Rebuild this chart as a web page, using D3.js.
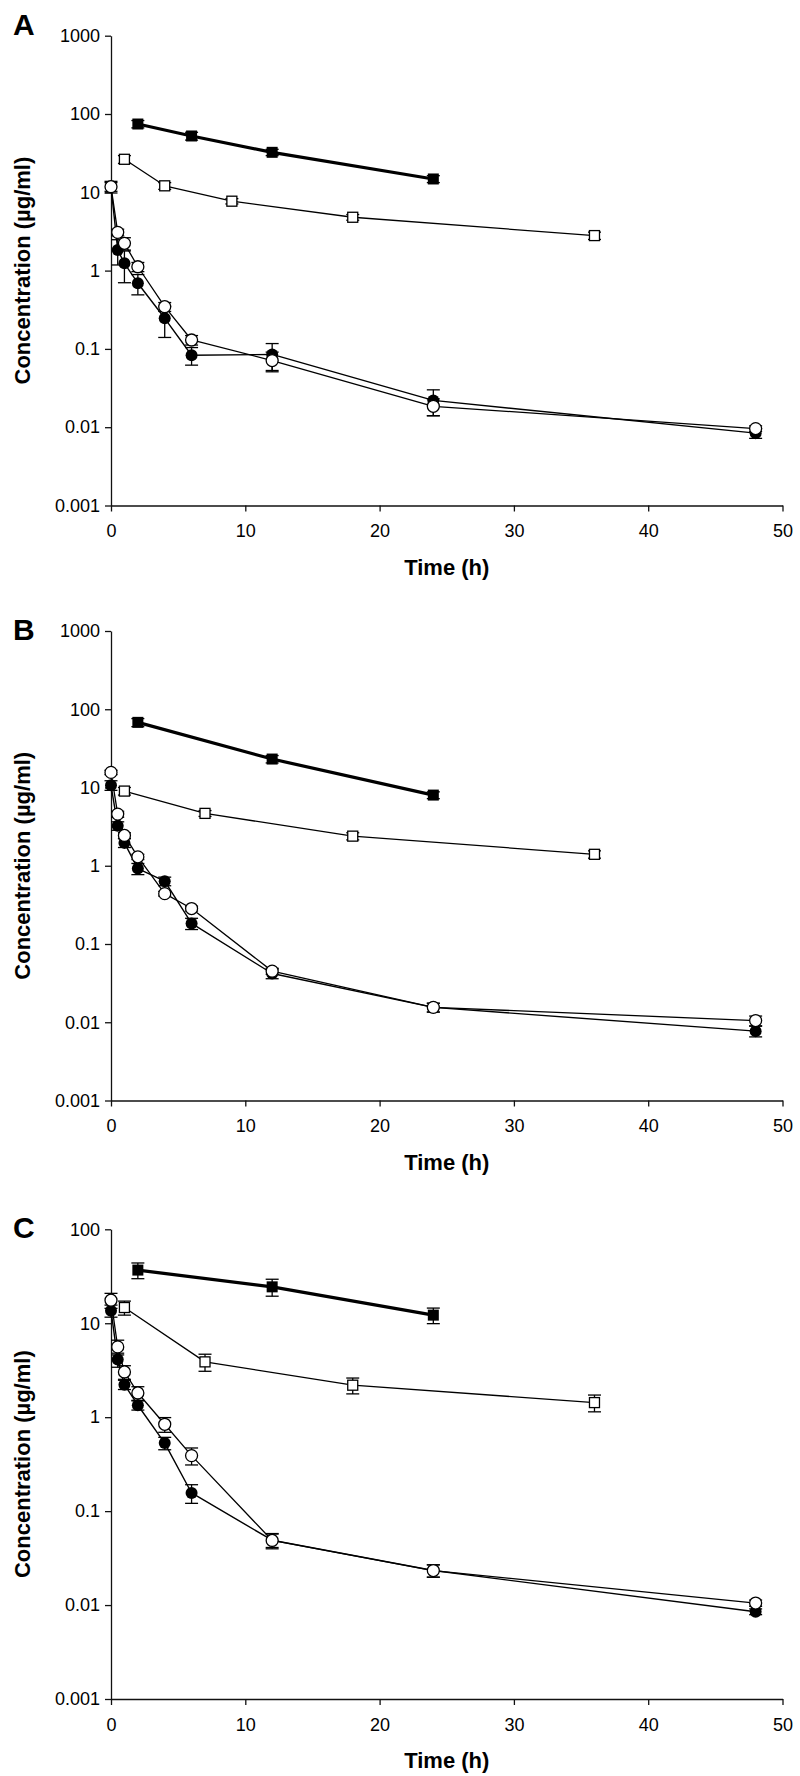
<!DOCTYPE html>
<html>
<head>
<meta charset="utf-8">
<script src="https://cdn.jsdelivr.net/npm/d3@7"></script>
<style>
  html, body { margin: 0; padding: 0; background: #fff; }
  svg { display: block; }
  text { font-family: "Liberation Sans", Arial, sans-serif; fill: #000; }
</style>
</head>
<body>
<svg id="chart" width="800" height="1776"></svg>
<script>
// ---------- DATA ----------
const xTicks = [0, 10, 20, 30, 40, 50];
const yTicksAB = [0.001, 0.01, 0.1, 1, 10, 100, 1000];
const yTicksC = [0.001, 0.01, 0.1, 1, 10, 100];
const panelLabels = ["A", "B", "C"];
const xTitle = "Time (h)";
const yTitle = "Concentration (µg/ml)";

const circleTimes = [0, 0.5, 1, 2, 4, 6, 12, 24, 48];

// Panel A
const sqFilledTimesA = [2, 6, 12, 24];
const sqFilledA = [74.5, 52.4, 32.4, 14.8];
const sqFilledSdA = [8, 6, 3, 1.5];
const sqOpenTimesA = [1, 4, 9, 18, 36];
const sqOpenA = [26.4, 12.1, 7.7, 4.8, 2.8];
const sqOpenSdA = [3, 1.2, 0.6, 0.4, 0.3];
const circFilledA = [11.8, 1.83, 1.24, 0.69, 0.246, 0.083, 0.085, 0.022, 0.0084];
const circFilledSdA = [2, 0.65, 0.54, 0.2, 0.106, 0.021, 0.032, 0.008, 0.0012];
const circOpenA = [11.8, 3.08, 2.23, 1.12, 0.346, 0.13, 0.071, 0.0185, 0.0096];
const circOpenSdA = [1.5, 0.3, 0.4, 0.15, 0.045, 0.018, 0.02, 0.0045, 0.0008];

// Panel B
const sqFilledTimesB = [2, 12, 24];
const sqFilledB = [68, 23.1, 8.0];
const sqFilledSdB = [8, 2.5, 0.8];
const sqOpenTimesB = [1, 7, 18, 36];
const sqOpenB = [9.0, 4.67, 2.39, 1.4];
const sqOpenSdB = [1, 0.4, 0.25, 0.15];
const circFilledB = [10.7, 3.24, 1.96, 0.92, 0.635, 0.183, 0.042, 0.0155, 0.0077];
const circFilledSdB = [1.5, 0.4, 0.25, 0.15, 0.08, 0.03, 0.006, 0.002, 0.0012];
const circOpenB = [15.6, 4.57, 2.44, 1.3, 0.44, 0.284, 0.045, 0.0155, 0.0105];
const circOpenSdB = [1, 0.4, 0.2, 0.1, 0.03, 0.02, 0.004, 0.002, 0.0015];

// Panel C
const sqFilledTimesC = [2, 12, 24];
const sqFilledC = [36.8, 24.4, 12.2];
const sqFilledSdC = [7, 5, 2.3];
const sqOpenTimesC = [1, 7, 18, 36];
const sqOpenC = [14.7, 3.88, 2.19, 1.43];
const sqOpenSdC = [2.5, 0.8, 0.42, 0.29];
const circFilledC = [13.6, 4.1, 2.22, 1.34, 0.53, 0.156, 0.049, 0.0233, 0.0085];
const circFilledSdC = [2, 0.7, 0.25, 0.15, 0.08, 0.035, 0.008, 0.0035, 0.0006];
const circOpenC = [17.6, 5.6, 3.03, 1.81, 0.84, 0.39, 0.0487, 0.0233, 0.0105];
const circOpenSdC = [3.2, 1, 0.5, 0.3, 0.15, 0.08, 0.009, 0.0035, 0.0008];

// ---------- LAYOUT ----------
const svg = d3.select("#chart");
const X0 = 111, X1 = 782.5;

const panels = [
  { label: panelLabels[0], top: 35.7, bottom: 505.5, yTicks: yTicksAB, labelY: 35,
    sqF: [sqFilledTimesA, sqFilledA, sqFilledSdA], sqO: [sqOpenTimesA, sqOpenA, sqOpenSdA],
    cF: [circleTimes, circFilledA, circFilledSdA], cO: [circleTimes, circOpenA, circOpenSdA] },
  { label: panelLabels[1], top: 631, bottom: 1100.5, yTicks: yTicksAB, labelY: 640,
    sqF: [sqFilledTimesB, sqFilledB, sqFilledSdB], sqO: [sqOpenTimesB, sqOpenB, sqOpenSdB],
    cF: [circleTimes, circFilledB, circFilledSdB], cO: [circleTimes, circOpenB, circOpenSdB] },
  { label: panelLabels[2], top: 1229.3, bottom: 1699, yTicks: yTicksC, labelY: 1238,
    sqF: [sqFilledTimesC, sqFilledC, sqFilledSdC], sqO: [sqOpenTimesC, sqOpenC, sqOpenSdC],
    cF: [circleTimes, circFilledC, circFilledSdC], cO: [circleTimes, circOpenC, circOpenSdC] }
];

const fmt = d => String(d);

panels.forEach(p => {
  const yTicks = p.yTicks;
  const x = d3.scaleLinear().domain([0, 50]).range([X0, X1]);
  const y = d3.scaleLog().domain([yTicks[0], yTicks[yTicks.length - 1]]).range([p.bottom, p.top]);
  const g = svg.append("g");

  // axes
  const yAxis = g.append("g").attr("transform", `translate(${X0},0)`)
    .call(d3.axisLeft(y).tickValues(yTicks).tickFormat(fmt).tickSize(6).tickSizeOuter(0).tickPadding(5));
  const xAxis = g.append("g").attr("transform", `translate(0,${p.bottom})`)
    .call(d3.axisBottom(x).tickValues(xTicks).tickFormat(fmt).tickSize(6).tickSizeOuter(0).tickPadding(13));
  [yAxis, xAxis].forEach(a => {
    a.selectAll("path, line").attr("stroke", "#111").attr("stroke-width", 1.3);
    a.selectAll("text").attr("font-size", 18).attr("fill", "#111")
      .style("font-family", '"Liberation Sans", Arial, sans-serif');
  });

  // titles
  g.append("text").attr("x", 13).attr("y", p.labelY)
    .attr("font-size", 30).attr("font-weight", "bold").text(p.label);
  g.append("text")
    .attr("transform", `translate(30,${(p.top + p.bottom) / 2}) rotate(-90)`)
    .attr("text-anchor", "middle").attr("font-size", 22).attr("font-weight", "bold")
    .text(yTitle);
  g.append("text").attr("x", (X0 + X1) / 2).attr("y", p.bottom + 69)
    .attr("text-anchor", "middle").attr("font-size", 22).attr("font-weight", "bold")
    .text(xTitle);

  const toPts = s => s[0].map((t, i) => ({ t, v: s[1][i], sd: s[2][i] }));
  const line = d3.line().x(d => x(d.t)).y(d => y(d.v));

  const series = [
    { pts: toPts(p.sqF), lw: 3.2 },
    { pts: toPts(p.sqO), lw: 1.3 },
    { pts: toPts(p.cF), lw: 1.4 },
    { pts: toPts(p.cO), lw: 1.3 }
  ];

  // lines
  series.forEach(s => {
    g.append("path").datum(s.pts).attr("d", line)
      .attr("fill", "none").attr("stroke", "#000").attr("stroke-width", s.lw)
      .attr("stroke-linejoin", "round");
  });

  // error bars
  const yMin = yTicks[0];
  series.forEach(s => {
    const eb = g.append("g").attr("stroke", "#000").attr("stroke-width", 1.3);
    s.pts.forEach(d => {
      const lo = Math.max(d.v - d.sd, yMin * 1.01);
      const hi = d.v + d.sd;
      const cx = x(d.t);
      eb.append("line").attr("x1", cx).attr("x2", cx).attr("y1", y(lo)).attr("y2", y(hi));
      eb.append("line").attr("x1", cx - 6.5).attr("x2", cx + 6.5).attr("y1", y(lo)).attr("y2", y(lo));
      eb.append("line").attr("x1", cx - 6.5).attr("x2", cx + 6.5).attr("y1", y(hi)).attr("y2", y(hi));
    });
  });

  // markers
  const sqF = series[0].pts, sqO = series[1].pts, cF = series[2].pts, cO = series[3].pts;
  g.selectAll(".sqF").data(sqF).enter().append("rect")
    .attr("x", d => x(d.t) - 5.5).attr("y", d => y(d.v) - 5.5)
    .attr("width", 11).attr("height", 11).attr("fill", "#000");
  g.selectAll(".sqO").data(sqO).enter().append("rect")
    .attr("x", d => x(d.t) - 5).attr("y", d => y(d.v) - 5)
    .attr("width", 10).attr("height", 10).attr("fill", "#fff")
    .attr("stroke", "#000").attr("stroke-width", 1.3);
  g.selectAll(".cF").data(cF).enter().append("circle")
    .attr("cx", d => x(d.t)).attr("cy", d => y(d.v)).attr("r", 6)
    .attr("fill", "#000");
  g.selectAll(".cO").data(cO).enter().append("circle")
    .attr("cx", d => x(d.t)).attr("cy", d => y(d.v)).attr("r", 6)
    .attr("fill", "#fff").attr("stroke", "#000").attr("stroke-width", 1.3);
});
</script>
</body>
</html>
